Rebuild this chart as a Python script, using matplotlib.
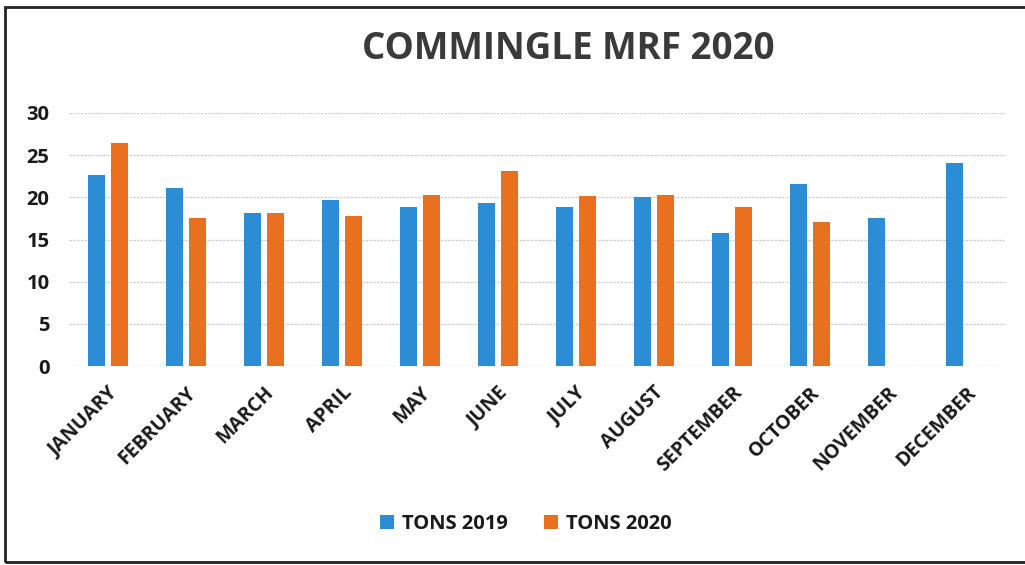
import numpy as np
import matplotlib
matplotlib.use("Agg")
import matplotlib.pyplot as plt
from matplotlib.patches import Rectangle

# Data
months = ["JANUARY", "FEBRUARY", "MARCH", "APRIL", "MAY", "JUNE",
          "JULY", "AUGUST", "SEPTEMBER", "OCTOBER", "NOVEMBER", "DECEMBER"]
tons_2019 = [22.6, 21.1, 18.1, 19.7, 18.8, 19.3, 18.8, 20.0, 15.8, 21.6, 17.6, 24.1]
tons_2020 = [26.4, 17.6, 18.1, 17.8, 20.3, 23.1, 20.2, 20.3, 18.8, 17.1, None, None]

BLUE = "#2B8DD6"
ORANGE = "#E8701E"
TEXT = "#1a1a1a"

plt.rcParams['font.family'] = ['Open Sans', 'DejaVu Sans']

fig = plt.figure(figsize=(10.25, 5.65), dpi=100)
ax = fig.add_axes([0.0673, 0.352, 0.913, 0.448])

x = np.arange(len(months))
w = 0.22
off = 0.145
ax.bar(x - off, tons_2019, width=w, color=BLUE, label="TONS 2019", zorder=3)
v2020 = [v if v is not None else 0 for v in tons_2020]
ax.bar(x + off, v2020, width=w, color=ORANGE, label="TONS 2020", zorder=3)

ax.set_xlim(-0.5, len(months) - 0.5)
ax.set_ylim(0, 30)
ax.set_yticks(range(0, 31, 5))
ax.yaxis.grid(True, color="#cfcfcf", linestyle=(0, (2, 1)), linewidth=0.9, zorder=0)
for s in ax.spines.values():
    s.set_visible(False)
ax.tick_params(axis="both", length=0, colors=TEXT)
ax.tick_params(axis="y", pad=14, labelsize=14.5)
for lbl in ax.get_yticklabels():
    lbl.set_fontweight("bold")

ax.set_xticks(x)
ax.set_xticklabels(months, rotation=45, ha="right", rotation_mode="anchor",
                   fontsize=14, fontweight="bold", color=TEXT)
ax.tick_params(axis="x", pad=12)

fig.text(0.554, 0.914, "COMMINGLE MRF 2020", ha="center", va="center",
         fontsize=26.5, fontweight="bold", color="#3a3a3a")

leg = fig.legend(loc="center", bbox_to_anchor=(0.513, 0.073), ncol=2, frameon=False,
                 handlelength=0.7, handleheight=0.7, handletextpad=0.4,
                 columnspacing=1.8, prop={"weight": "bold", "size": 14.5})
for t in leg.get_texts():
    t.set_color(TEXT)

# outer frame of the chart
fig.patches.append(Rectangle((0.005, 0.006), 1.2, 0.982, transform=fig.transFigure,
                             fill=False, edgecolor="#222222", linewidth=2))

fig.savefig("out.png", dpi=100)
